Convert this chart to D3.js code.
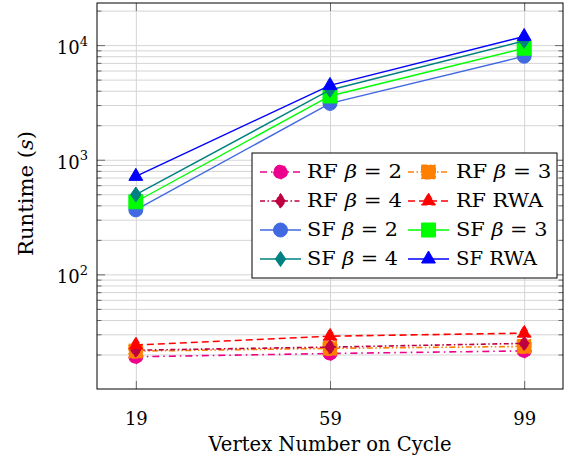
<!DOCTYPE html>
<html><head><meta charset="utf-8">
<script src="https://cdn.jsdelivr.net/npm/d3@7"></script>
<style>body{margin:0;background:#fff}svg{display:block}svg text{font-family:"DejaVu Serif",serif !important;fill:#000}</style>
</head><body><svg id="c" width="574" height="457"></svg>
<script>
// ---- data ----
const vertexCounts = [19, 59, 99];
const rfBeta2 = [19.1, 20.4, 21.5];
const rfBeta3 = [21.4, 22.6, 23.5];
const rfBeta4 = [21.8, 23.2, 25.0];
const rfRWA   = [24.2, 28.9, 30.7];
const sfBeta2 = [365, 3100, 8000];
const sfBeta3 = [430, 3600, 9400];
const sfBeta4 = [497, 4060, 10900];
const sfRWA   = [716, 4450, 11900];
const legendPrefix = ["RF", "RF", "RF", "RF", "SF", "SF", "SF", "SF"];
const legendParam  = ["2", "3", "4", "RWA", "2", "3", "4", "RWA"];
const yTickValues = [100, 1000, 10000];
const yTickExponents = ["2", "3", "4"];
const xTickLabels = ["19", "59", "99"];
const xAxisTitle = "Vertex Number on Cycle";
const yAxisTitle = "Runtime";

// ---- styles ----
const FONT = "'DejaVu Serif', serif";
const seriesValues = [rfBeta2, rfBeta3, rfBeta4, rfRWA, sfBeta2, sfBeta3, sfBeta4, sfRWA];
const colors = ["#EC008C", "#FF8000", "#BF0040", "#FF0000", "#4169E1", "#00FF00", "#008080", "#0000FF"];
const dashes = ["7,4,1.5,4", "6,2.5,1.5,2.5,1.5,2.5", "5,2.5,1.5,2.5", "7,4", null, null, null, null];
const markers = ["circle", "square", "diamond", "triangle", "circle", "square", "diamond", "triangle"];
const legendWidths = [95, 95.5, 95, 87, 91, 91.5, 91, 81];

const svg = d3.select("#c");
const L = 97, R = 563, T = 3, B = 389;
const x = d3.scaleLinear().domain([11, 107]).range([L, R]);
const y = d3.scaleLog().domain([10, 23300]).range([B, T]);

const minorVals = [];
for (let k = 1; k <= 4; k++) for (let m = 2; m <= 9; m++) { const v = m * Math.pow(10, k); if (v <= 23300) minorVals.push(v); }

// grid
svg.append("g").attr("transform", `translate(${L},0)`)
  .call(d3.axisLeft(y).tickValues(minorVals.concat(yTickValues)).tickSize(-(R - L)).tickFormat(""))
  .call(g => { g.select(".domain").remove(); g.selectAll("line").attr("stroke", "#d4d4d4").attr("stroke-width", 1); });
svg.append("g").attr("transform", `translate(0,${B})`)
  .call(d3.axisBottom(x).tickValues(vertexCounts).tickSize(-(B - T)).tickFormat(""))
  .call(g => { g.select(".domain").remove(); g.selectAll("line").attr("stroke", "#d4d4d4").attr("stroke-width", 1); });

function styleTicks(g) { g.attr("font-family", FONT); g.select(".domain").remove(); g.selectAll("line").attr("stroke", "#6a6a6a").attr("stroke-width", 1); }
// y ticks left & right
svg.append("g").attr("transform", `translate(${L},0)`).call(d3.axisLeft(y).tickValues(minorVals).tickSize(-4.5).tickFormat("")).call(styleTicks);
svg.append("g").attr("transform", `translate(${R},0)`).call(d3.axisRight(y).tickValues(minorVals).tickSize(-4.5).tickFormat("")).call(styleTicks);
svg.append("g").attr("transform", `translate(${R},0)`).call(d3.axisRight(y).tickValues(yTickValues).tickSize(-8).tickFormat("")).call(styleTicks);
const yLeft = svg.append("g").attr("transform", `translate(${L},0)`)
  .call(d3.axisLeft(y).tickValues(yTickValues).tickSize(-8)).call(styleTicks);
yLeft.selectAll(".tick text").each(function(d, i) {
  const t = d3.select(this);
  t.text(null).attr("x", -9).attr("y", 8.5).attr("dy", null).attr("font-size", 18)
    .attr("font-family", FONT).attr("text-anchor", "end").attr("fill", "#000");
  t.append("tspan").text("10");
  t.append("tspan").attr("font-size", 13).attr("dy", -8.5).text(yTickExponents[i]);
});
// x ticks bottom & top
const xBottom = svg.append("g").attr("transform", `translate(0,${B})`)
  .call(d3.axisBottom(x).tickValues(vertexCounts).tickSize(-8).tickFormat((d, i) => xTickLabels[i])).call(styleTicks);
xBottom.selectAll(".tick text").attr("y", 36).attr("dy", null).attr("font-size", 18)
  .attr("font-family", FONT).attr("fill", "#000");
svg.append("g").attr("transform", `translate(0,${T})`)
  .call(d3.axisTop(x).tickValues(vertexCounts).tickSize(-8).tickFormat("")).call(styleTicks);

// markers
function markerPath(type) {
  if (type === "circle") { const r = 7; return `M${-r},0A${r},${r} 0 1,0 ${r},0A${r},${r} 0 1,0 ${-r},0Z`; }
  if (type === "square") { const s = 7; return `M${-s},${-s}H${s}V${s}H${-s}Z`; }
  if (type === "diamond") { return `M0,-7.5L5.2,0L0,7.5L-5.2,0Z`; }
  const r = 8, c = r * Math.cos(Math.PI / 6);
  return `M0,${-r}L${c},${r / 2}L${-c},${r / 2}Z`;
}

const line = d3.line().x((d, i) => x(vertexCounts[i])).y(d => y(d));
const plot = svg.append("g");
seriesValues.forEach((vals, s) => {
  const g = plot.append("g");
  g.append("path").attr("d", line(vals)).attr("fill", "none").attr("stroke", colors[s])
    .attr("stroke-width", s < 4 ? 1.6 : 1.4).attr("stroke-dasharray", dashes[s]);
  g.selectAll("path.m").data(vals).join("path").attr("class", "m")
    .attr("transform", (d, i) => `translate(${x(vertexCounts[i])},${y(d)})`)
    .attr("d", markerPath(markers[s])).attr("fill", colors[s]).attr("stroke", colors[s])
    .attr("stroke-width", 1).attr("stroke-dasharray", dashes[s]);
});

// frame
svg.append("rect").attr("x", L).attr("y", T).attr("width", R - L).attr("height", B - T)
  .attr("fill", "none").attr("stroke", "#000").attr("stroke-width", 1);

// axis titles
svg.append("text").attr("x", 330).attr("y", 451).attr("text-anchor", "middle").attr("font-size", 20)
  .attr("font-family", FONT).attr("textLength", 243).attr("lengthAdjust", "spacingAndGlyphs").text(xAxisTitle);
const yt = svg.append("text").attr("transform", "translate(33,193.5) rotate(-90)").attr("text-anchor", "middle")
  .attr("font-family", FONT).attr("font-size", 20).attr("textLength", 125).attr("lengthAdjust", "spacingAndGlyphs");
yt.append("tspan").text(yAxisTitle + " (");
yt.append("tspan").attr("font-style", "italic").text("s");
yt.append("tspan").text(")");

// legend
const lg = svg.append("g");
lg.append("rect").attr("x", 252).attr("y", 153).attr("width", 305).attr("height", 125)
  .attr("fill", "#fff").attr("stroke", "#000").attr("stroke-width", 1);
seriesValues.forEach((vals, s) => {
  const col = s % 2, row = Math.floor(s / 2);
  const ry = 172 + 29 * row;
  const x1 = col ? 408 : 260, x2 = x1 + 41;
  lg.append("line").attr("x1", x1).attr("x2", x2).attr("y1", ry).attr("y2", ry)
    .attr("stroke", colors[s]).attr("stroke-width", s < 4 ? 1.6 : 1.4).attr("stroke-dasharray", dashes[s]);
  lg.append("path").attr("transform", `translate(${(x1 + x2) / 2},${ry})`).attr("d", markerPath(markers[s]))
    .attr("fill", colors[s]).attr("stroke", colors[s]).attr("stroke-width", 1).attr("stroke-dasharray", dashes[s]);
  const t = lg.append("text").attr("x", col ? 456 : 307).attr("y", ry + 6).attr("font-size", 18.5)
    .attr("font-family", FONT).attr("textLength", legendWidths[s]).attr("lengthAdjust", "spacingAndGlyphs");
  if (legendParam[s] === "RWA") {
    t.append("tspan").text(legendPrefix[s] + " RWA");
  } else {
    t.append("tspan").text(legendPrefix[s] + " ");
    t.append("tspan").attr("font-style", "italic").text("β");
    t.append("tspan").text(" = " + legendParam[s]);
  }
});
</script></body></html>
